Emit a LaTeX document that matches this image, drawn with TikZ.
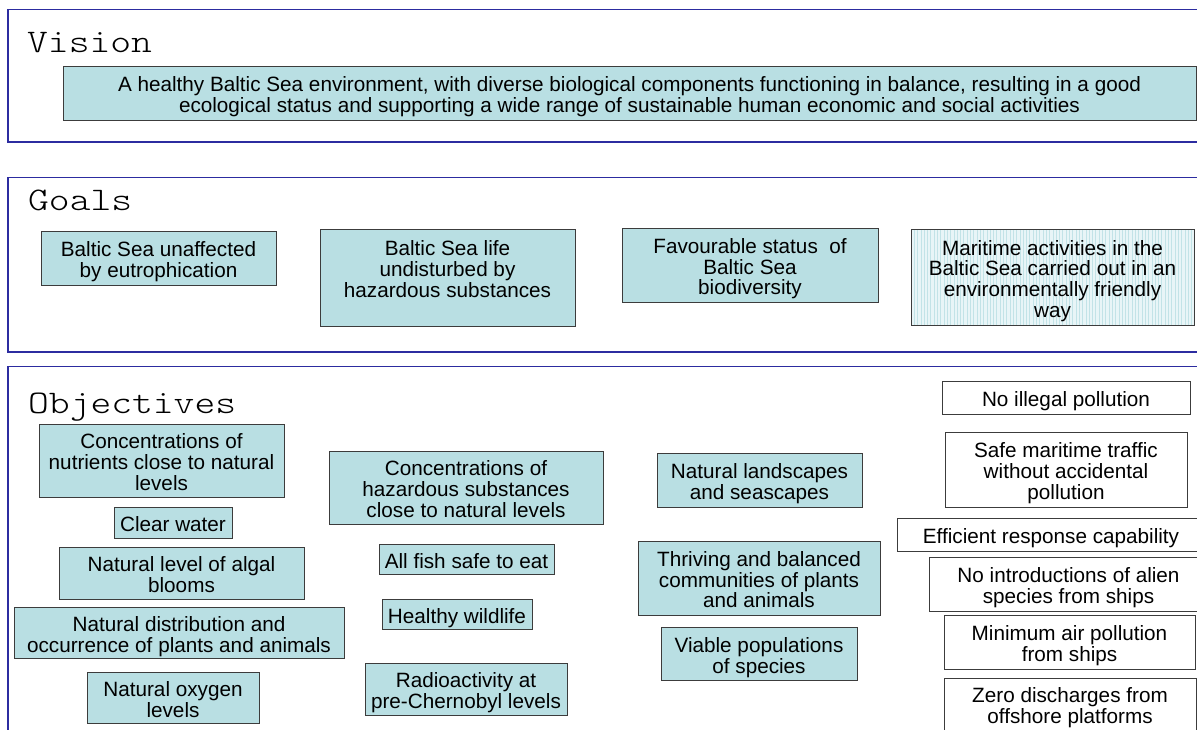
\documentclass[tikz,border=0pt]{standalone}
\usepackage{fontspec}
\setmainfont{Liberation Sans}
\newfontfamily\titlefont{Latin Modern Mono Light}[FakeStretch=1.2]
\usepackage{tikz}
\usetikzlibrary{positioning,
                backgrounds}                % grid behind the last goal

\definecolor{panelblue}{HTML}{2C2CA0}
\definecolor{boxgrey}{HTML}{3C3C3C}
\definecolor{boxfill}{HTML}{B9DFE3}
\definecolor{gridfill}{HTML}{E8F5F7}
\definecolor{gridline}{HTML}{C2E3E7}
\newcommand\boxfont{\fontsize{20.7}{20.7}\selectfont}
\newcommand\topstrut{\rule{0pt}{22.7pt}}
\newcommand\botstrut{\rule[-4.4pt]{0pt}{4.4pt}}
% centred lines at a fixed line pitch, text sits a little low like the slide
\newcommand\boxlines[1]{{\let\\\cr\lineskiplimit=-100pt
        \vbox{\halign{\hfil##\hfil\cr\topstrut#1\botstrut\crcr}}}}

\tikzset{
  panel/.style={draw=panelblue, line width=1.1pt},
  paneltitle/.style={anchor=base west, inner sep=0pt, font=\titlefont\fontsize{33}{33}\selectfont},
  objbox/.style={draw=boxgrey, line width=1pt, fill=boxfill, inner xsep=2pt, inner ysep=0pt, font=\boxfont},
  shipbox/.style={objbox, fill=white}
}

\begin{document}
\begin{tikzpicture}[x=1pt, y=-1pt]
                \useasboundingbox (0,0) rectangle (1197,729);
                \clip (0,0) rectangle (1197,729);

                % panels
                \draw[panel] (8,9.5) rectangle (1215,142);
                \draw[panel] (8,177.5) rectangle (1215,352);
                \draw[panel] (8,366.5) rectangle (1215,745);

                \node[paneltitle] (tvision) at (27,52) {Vision};
                \node[paneltitle] (tgoals) at (28,210) {Goals};
                \node[paneltitle] (tobj) at (28,413) {Objectives};

                % vision
                \node[objbox, minimum width=1133, minimum height=54] (vision) at (629.5,93)
                        {\boxlines{A healthy Baltic Sea environment, with diverse biological components functioning in balance, resulting in a good\\
                         ecological status and supporting a wide range of sustainable human economic and social activities}};

                % goals
                \node[objbox, minimum width=235, minimum height=54] (gEutro) at (158.5,258)
                        {\boxlines{Baltic Sea unaffected\\ by eutrophication}};
                \node[objbox, minimum width=255, minimum height=97] (gHaz) at (447.5,277.5)
                        {\boxlines{Baltic Sea life\\ undisturbed by\\ hazardous substances\\}};
                \node[objbox, minimum width=256, minimum height=74] (gBio) at (750,265)
                        {\boxlines{Favourable status~ of\\ Baltic Sea\\ biodiversity}};
                \node[objbox, fill=none, minimum width=283, minimum height=96] (gMarit) at (1052.5,277)
                        {\boxlines{Maritime activities in the\\ Baltic Sea carried out in an\\ environmentally friendly\\ way}};
                \begin{scope}[on background layer]
                        \fill[gridfill] (gMarit.south west) rectangle (gMarit.north east);
                        \clip (gMarit.south west) rectangle (gMarit.north east);
                        \draw[gridline, line width=0.25pt] (gMarit.south west) grid[step=3.3] (gMarit.north east);
                \end{scope}

                % objectives: eutrophication
                \node[objbox, minimum width=245, minimum height=73] (oNutr) at (161.5,460.5)
                        {\boxlines{Concentrations of\\ nutrients close to natural\\ levels}};
                \node[objbox, minimum width=118, minimum height=31] (oClear) at (173,522.5) {\boxlines{Clear water}};
                \node[objbox, minimum width=245, minimum height=52] (oAlgal) at (181.5,573)
                        {\boxlines{Natural level of algal\\ blooms}};
                \node[objbox, minimum width=330, minimum height=51] (oDistr) at (179,632.5)
                        {\boxlines{Natural distribution and\\ occurrence of plants and animals}};
                \node[objbox, minimum width=172, minimum height=51] (oOxy) at (173,697.5)
                        {\boxlines{Natural oxygen\\ levels}};

                % objectives: hazardous substances
                \node[objbox, minimum width=274, minimum height=73] (oHaz) at (466,487.5)
                        {\boxlines{Concentrations of\\ hazardous substances\\ close to natural levels}};
                \node[objbox, minimum width=175, minimum height=30] (oFish) at (466.5,559) {\boxlines{All fish safe to eat}};
                \node[objbox, minimum width=150, minimum height=30] (oWild) at (457,614) {\boxlines{Healthy wildlife}};
                \node[objbox, minimum width=202, minimum height=52] (oRadio) at (466,689)
                        {\boxlines{Radioactivity at\\ pre-Chernobyl levels}};

                % objectives: biodiversity
                \node[objbox, minimum width=205, minimum height=54] (oLand) at (759.5,480)
                        {\boxlines{Natural landscapes\\ and seascapes}};
                \node[objbox, minimum width=242, minimum height=74] (oComm) at (759,578)
                        {\boxlines{Thriving and balanced\\ communities of plants\\ and animals}};
                \node[objbox, minimum width=196, minimum height=53] (oPop) at (759,653.5)
                        {\boxlines{Viable populations\\ of species}};

                % objectives: maritime activities
                \node[shipbox, minimum width=248, minimum height=33] (mIllegal) at (1066,397.5) {\boxlines{No illegal pollution}};
                \node[shipbox, minimum width=242, minimum height=75] (mSafe) at (1066,469.5)
                        {\boxlines{Safe maritime traffic\\ without accidental\\ pollution}};
                \node[shipbox, minimum width=308, minimum height=33] (mResp) at (1051,534.5)
                        {\boxlines{Efficient response capability}};
                \node[shipbox, minimum width=279, minimum height=54] (mAlien) at (1068.5,584)
                        {\boxlines{No introductions of alien\\ species from ships}};
                \node[shipbox, minimum width=251, minimum height=54] (mAir) at (1069.5,642)
                        {\boxlines{Minimum air pollution\\ from ships}};
                \node[shipbox, minimum width=252, minimum height=52] (mZero) at (1070,704)
                        {\boxlines{Zero discharges from\\ offshore platforms}};

        \end{tikzpicture}
\end{document}
